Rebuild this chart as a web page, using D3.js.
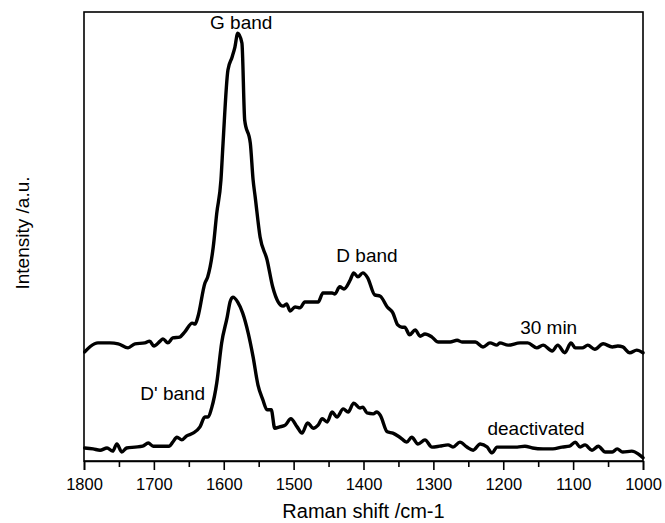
<!DOCTYPE html>
<html>
<head>
<meta charset="utf-8">
<script src="https://cdn.jsdelivr.net/npm/d3@7/dist/d3.min.js"></script>
<style>
  html, body { margin: 0; padding: 0; background: #fff; }
  svg { display: block; font-family: "Liberation Sans", Arial, sans-serif; }
</style>
</head>
<body>
<svg id="chart" width="665" height="523"></svg>
<script>
// ---- data ----
const xTicks = [1800, 1700, 1600, 1500, 1400, 1300, 1200, 1100, 1000];
const xMinorTicks = [1750, 1650, 1550, 1450, 1350, 1250, 1150, 1050];

const shift30 = [1799, 1791, 1780, 1763, 1751, 1737, 1727, 1713, 1706, 1700, 1691, 1687, 1680, 1673, 1663, 1656, 1645, 1641, 1637, 1627, 1623, 1615, 1610, 1604, 1601, 1594, 1588, 1584, 1580, 1574, 1570, 1562, 1558, 1555, 1548, 1538, 1530, 1522, 1515, 1510, 1505, 1498, 1491, 1484, 1472, 1465, 1458, 1445, 1441, 1434, 1428, 1419, 1414, 1408, 1401, 1394, 1384, 1376, 1366, 1358, 1351, 1345, 1341, 1334, 1326, 1319, 1312, 1302, 1293, 1276, 1266, 1259, 1240, 1229, 1219, 1209, 1205, 1193, 1176, 1165, 1152, 1143, 1130, 1122, 1112, 1103, 1097, 1087, 1079, 1069, 1057, 1044, 1036, 1029, 1019, 1009, 1000];
const int30 = [24.3, 25.5, 26.3, 26.3, 26.1, 25.2, 26.1, 26.3, 26.7, 25.6, 26.7, 27.2, 26.3, 27.4, 27.6, 28.7, 30.7, 30.5, 32.1, 39.6, 41.0, 47.7, 55.2, 62.6, 70.8, 87.1, 90.0, 92.2, 95.3, 93.1, 75.9, 70.8, 62.6, 58.8, 49.9, 44.8, 38.8, 35.4, 34.5, 35.0, 33.4, 34.3, 34.1, 35.4, 35.4, 35.4, 37.4, 37.4, 37.2, 38.8, 38.3, 40.3, 41.9, 41.0, 41.9, 40.8, 37.0, 36.7, 34.3, 33.0, 30.3, 29.8, 29.8, 28.1, 29.2, 27.8, 28.3, 27.6, 26.5, 26.5, 26.9, 26.5, 26.5, 25.4, 26.3, 25.8, 26.3, 25.8, 26.3, 26.3, 25.2, 25.8, 24.5, 25.8, 24.1, 26.3, 25.2, 25.2, 25.8, 24.9, 26.1, 25.4, 25.6, 25.4, 24.1, 24.7, 24.1];

const shiftDeact = [1799, 1787, 1777, 1767, 1759, 1753, 1746, 1739, 1727, 1716, 1708, 1701, 1687, 1678, 1673, 1667, 1660, 1653, 1644, 1634, 1627, 1623, 1617, 1610, 1603, 1595, 1591, 1587, 1580, 1573, 1565, 1558, 1551, 1544, 1538, 1532, 1527, 1520, 1512, 1504, 1495, 1488, 1480, 1472, 1465, 1459, 1452, 1445, 1438, 1429, 1422, 1414, 1405, 1401, 1395, 1386, 1381, 1376, 1366, 1358, 1348, 1338, 1331, 1322, 1312, 1302, 1291, 1279, 1272, 1262, 1252, 1243, 1233, 1223, 1216, 1209, 1195, 1180, 1169, 1158, 1143, 1129, 1116, 1105, 1097, 1090, 1083, 1073, 1064, 1054, 1044, 1037, 1029, 1016, 1007, 1000];
const intDeact = [2.9, 2.7, 2.4, 2.9, 2.2, 3.8, 2.0, 2.9, 3.1, 3.3, 4.0, 3.3, 3.3, 3.3, 4.2, 5.3, 4.7, 5.6, 6.2, 7.6, 9.8, 9.8, 12.0, 17.4, 26.3, 32.1, 35.4, 36.5, 35.4, 33.0, 28.5, 23.2, 16.9, 13.6, 11.4, 11.4, 7.3, 7.6, 8.0, 9.4, 7.6, 6.2, 8.5, 7.3, 8.0, 9.4, 8.7, 10.9, 9.8, 11.6, 10.9, 12.9, 11.8, 12.0, 10.7, 10.5, 10.9, 10.2, 6.5, 6.2, 5.3, 4.2, 5.3, 3.8, 4.7, 3.1, 3.3, 3.6, 3.1, 4.2, 3.1, 2.4, 3.8, 3.1, 1.8, 3.1, 3.1, 3.1, 3.3, 2.9, 2.7, 2.7, 3.1, 3.3, 4.2, 3.1, 3.6, 2.4, 3.3, 2.0, 2.0, 2.7, 2.0, 2.2, 1.6, 0.7];

const bandLabels = ["G band", "D band", "D' band"];
const bandPositions = [[1575, 96.2], [1395, 44.3], [1673, 13.6]];
const seriesLabels = ["30 min", "deactivated"];
const seriesLabelPositions = [[1135, 28.2], [1153, 5.8]];

// ---- layout ----
const W = 665, H = 523;
const margin = { top: 12, right: 22, bottom: 62, left: 84 };
const svg = d3.select("#chart");
const iw = W - margin.left - margin.right;
const ih = H - margin.top - margin.bottom;
const g = svg.append("g").attr("transform", `translate(${margin.left},${margin.top})`);

const x = d3.scaleLinear().domain([1800, 1000]).range([0, iw]);
const y = d3.scaleLinear().domain([0, 100]).range([ih, 0]);

// frame
g.append("rect").attr("x", 0).attr("y", 0).attr("width", iw).attr("height", ih)
  .attr("fill", "none").attr("stroke", "#000").attr("stroke-width", 1.6);

// x axis major ticks
const xAxis = d3.axisBottom(x).tickValues(xTicks).tickSize(9).tickPadding(8).tickFormat(d3.format("d"));
const ax = g.append("g").attr("transform", `translate(0,${ih})`).call(xAxis);
ax.select(".domain").attr("stroke-width", 1.6);
ax.selectAll(".tick line").attr("stroke-width", 1.6);
ax.selectAll(".tick text").attr("font-size", 16.5).attr("fill", "#000")
  .attr("font-family", "'Liberation Sans', Arial, sans-serif");
// minor ticks
const axm = g.append("g").attr("transform", `translate(0,${ih})`)
  .call(d3.axisBottom(x).tickValues(xMinorTicks).tickSize(6).tickFormat(""));
axm.select(".domain").remove();
axm.selectAll(".tick line").attr("stroke-width", 1.6);

// curves
const line = d3.line().x(d => x(d[0])).y(d => y(d[1])).curve(d3.curveMonotoneX);
const s1 = shift30.map((s, i) => [s, int30[i]]);
const s2 = shiftDeact.map((s, i) => [s, intDeact[i]]);
[s1, s2].forEach(s => {
  g.append("path").datum(s).attr("d", line)
    .attr("fill", "none").attr("stroke", "#000").attr("stroke-width", 3.4)
    .attr("stroke-linejoin", "round").attr("stroke-linecap", "round");
});

// annotations
bandLabels.forEach((t, i) => {
  g.append("text").attr("x", x(bandPositions[i][0])).attr("y", y(bandPositions[i][1]))
    .attr("text-anchor", "middle").attr("font-size", 19).text(t);
});
seriesLabels.forEach((t, i) => {
  g.append("text").attr("x", x(seriesLabelPositions[i][0])).attr("y", y(seriesLabelPositions[i][1]))
    .attr("text-anchor", "middle").attr("font-size", 19).text(t);
});

// axis titles
svg.append("text").attr("x", margin.left + iw / 2).attr("y", 518)
  .attr("text-anchor", "middle").attr("font-size", 20).text("Raman shift /cm-1");
svg.append("text").attr("transform", `translate(29,${233}) rotate(-90)`)
  .attr("text-anchor", "middle").attr("font-size", 19).text("Intensity /a.u.");
</script>
</body>
</html>
